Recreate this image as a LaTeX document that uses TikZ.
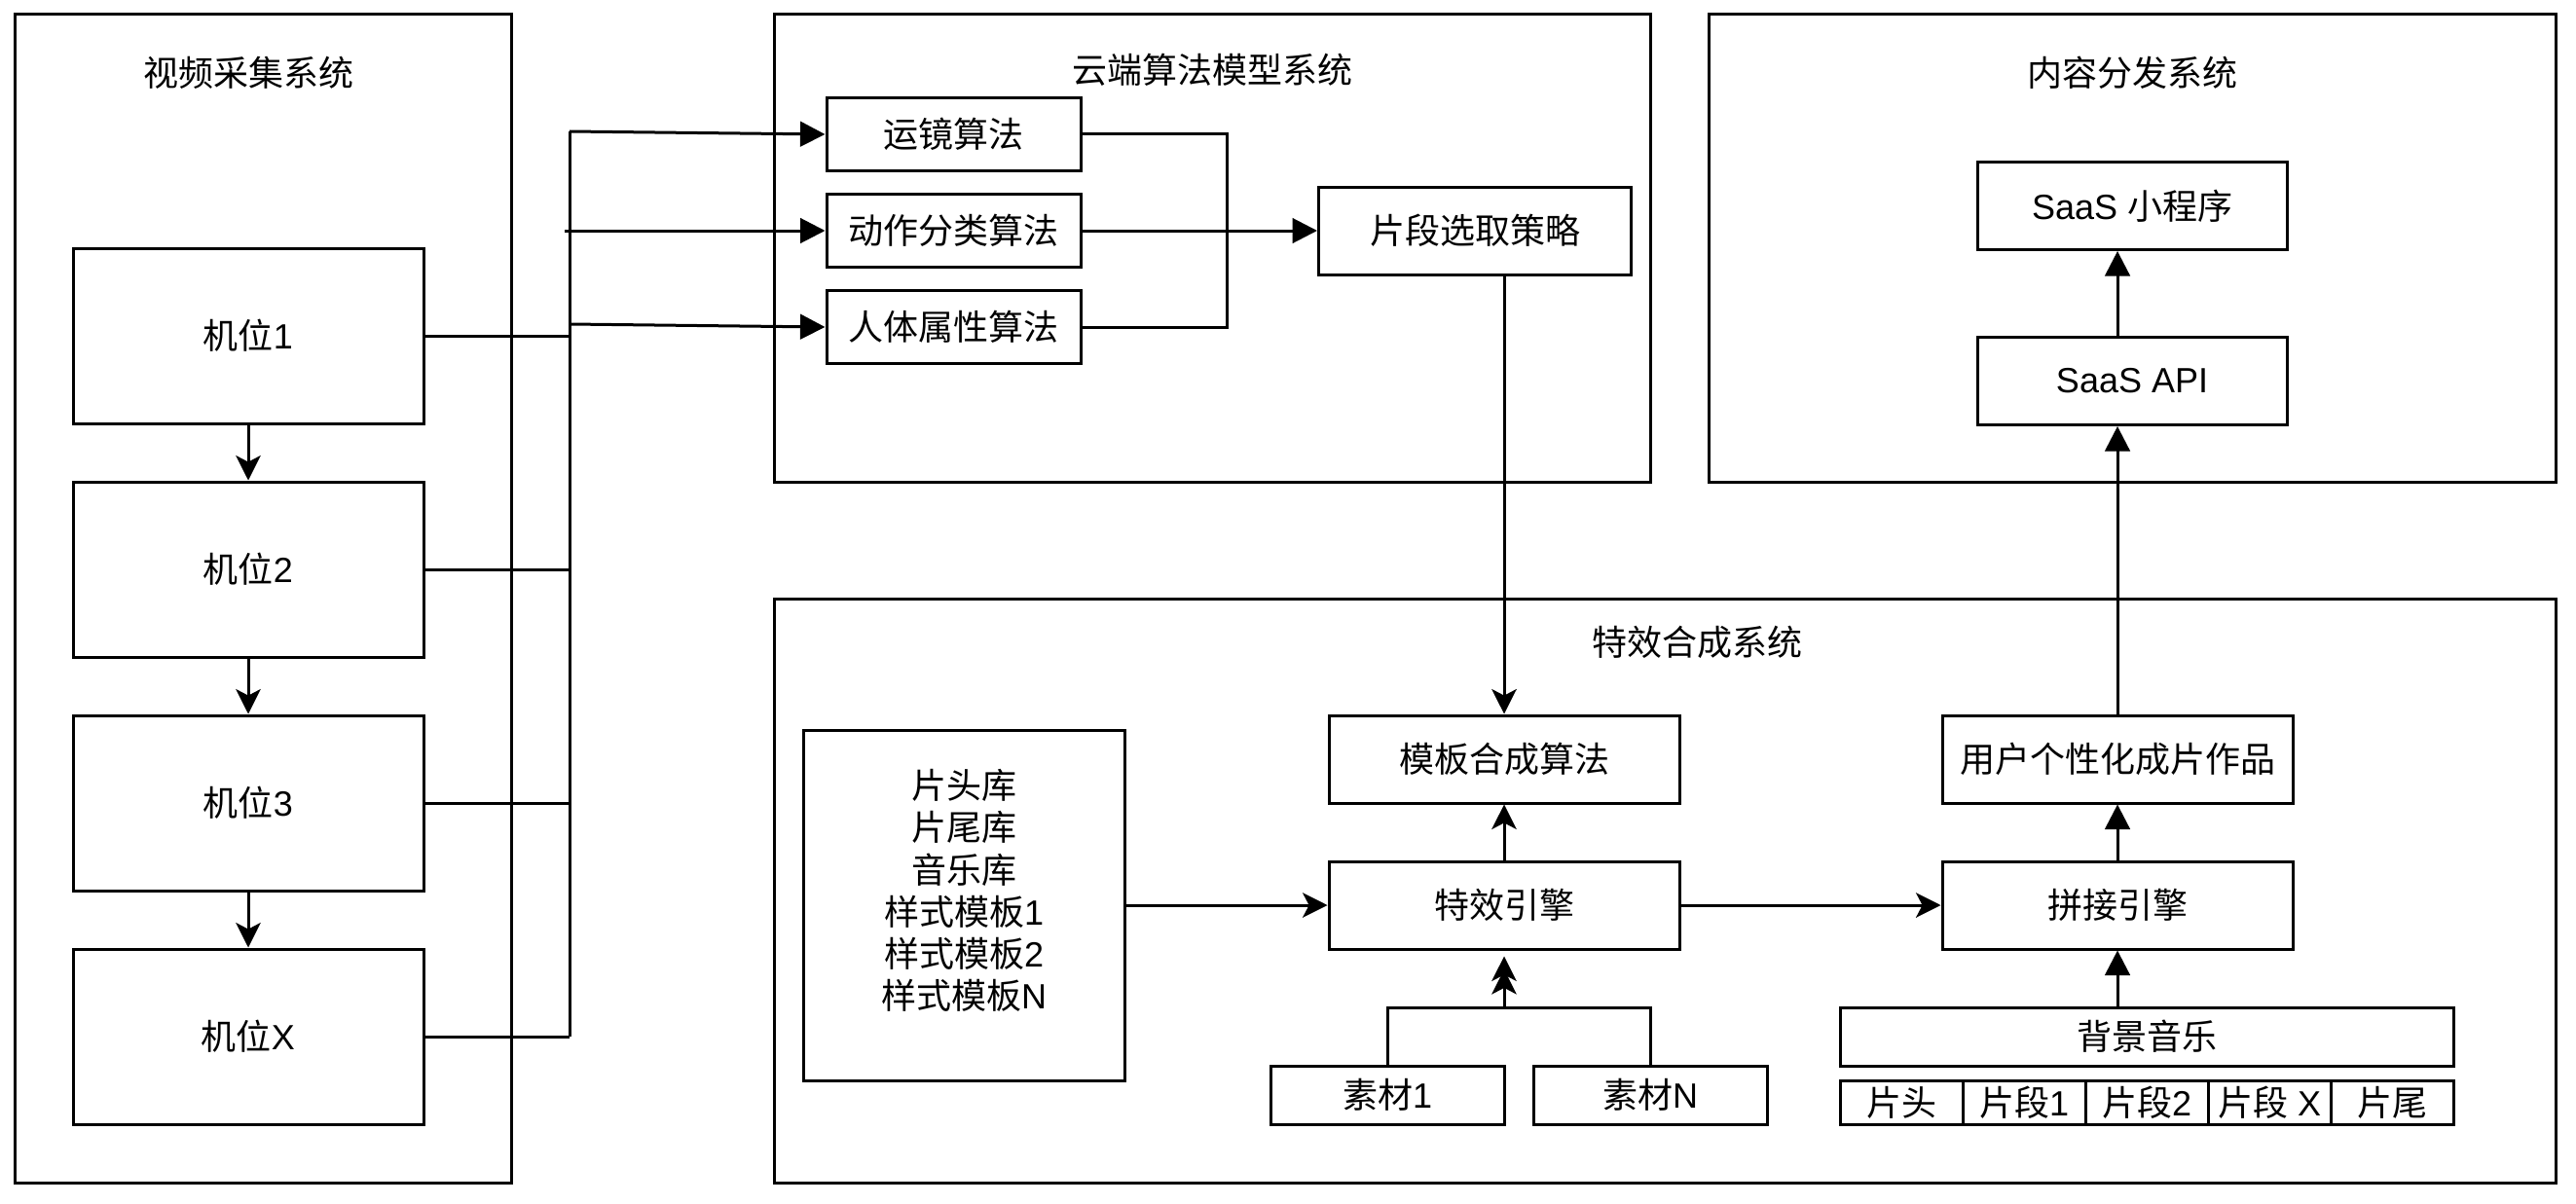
\documentclass[tikz,border=0pt]{standalone}
\usepackage{fontspec}
\setmainfont{Liberation Sans}
\newfontfamily\cjk{Noto Sans CJK SC}
\newcommand\C[1]{{\cjk #1}}
\usetikzlibrary{arrows.meta}
\tikzset{
  sys/.style={draw, line width=1pt, inner sep=0pt},
  ttl/.style={inner sep=0pt, font=\fontsize{12}{14.4}\selectfont},
  bx/.style={draw, line width=1pt, inner sep=0pt, align=center, font=\fontsize{12}{14.4}\selectfont},
  ln/.style={line width=1pt},
  blk/.style={line width=1pt, -{Triangle[length=8.5pt,width=8.5pt]}},
  cls/.style={line width=1pt, -{Stealth[length=8.5pt,width=8.5pt,inset=2.2pt]}},
}
\begin{document}
\begin{tikzpicture}[x=1pt,y=-1pt]
\useasboundingbox[fill=white] (0,0) rectangle (882,412);
% system frames
\node[sys, minimum width=170pt, minimum height=400pt] (sysA) at (90,205) {};
\node[sys, minimum width=300pt, minimum height=160pt] (sysB) at (415,85) {};
\node[sys, minimum width=290pt, minimum height=160pt] (sysC) at (730,85) {};
\node[sys, minimum width=610pt, minimum height=200pt] (sysD) at (570,305) {};
\node[ttl] (tA) at (85,25) {\C{视频采集系统}};
\node[ttl] (tB) at (415,24) {\C{云端算法模型系统}};
\node[ttl] (tC) at (730,25) {\C{内容分发系统}};
\node[ttl] (tD) at (581,220) {\C{特效合成系统}};
% cameras
\node[bx, minimum width=120pt, minimum height=60pt] (c1) at (85,115) {\C{机位}1};
\node[bx, minimum width=120pt, minimum height=60pt] (c2) at (85,195) {\C{机位}2};
\node[bx, minimum width=120pt, minimum height=60pt] (c3) at (85,275) {\C{机位}3};
\node[bx, minimum width=120pt, minimum height=60pt] (cX) at (85,355) {\C{机位}X};
% algorithms
\node[bx, minimum width=87pt, minimum height=25pt] (a1) at (326.5,46) {\C{运镜算法}};
\node[bx, minimum width=87pt, minimum height=25pt] (a2) at (326.5,79) {\C{动作分类算法}};
\node[bx, minimum width=87pt, minimum height=25pt] (a3) at (326.5,112) {\C{人体属性算法}};
\node[bx, minimum width=107pt, minimum height=30pt] (sel) at (505,79) {\C{片段选取策略}};
% distribution
\node[bx, minimum width=106pt, minimum height=30pt] (mini) at (730,70.5) {SaaS \C{小程序}};
\node[bx, minimum width=106pt, minimum height=30pt] (api) at (730,130.5) {SaaS API};
% effects
\node[bx, minimum width=110pt, minimum height=120pt] (lib) at (330,310) {};
\node[ttl, align=center] (libtxt) at (330,305) {\C{片头库}\\\C{片尾库}\\\C{音乐库}\\\C{样式模板}1\\\C{样式模板}2\\\C{样式模板}N};
\node[bx, minimum width=120pt, minimum height=30pt] (tpl) at (515,260) {\C{模板合成算法}};
\node[bx, minimum width=120pt, minimum height=30pt] (fx) at (515,310) {\C{特效引擎}};
\node[bx, minimum width=80pt, minimum height=20pt] (m1) at (475,375) {\C{素材}1};
\node[bx, minimum width=80pt, minimum height=20pt] (mN) at (565,375) {\C{素材}N};
\node[bx, minimum width=120pt, minimum height=30pt] (usr) at (725,260) {\C{用户个性化成片作品}};
\node[bx, minimum width=120pt, minimum height=30pt] (stc) at (725,310) {\C{拼接引擎}};
\node[bx, minimum width=210pt, minimum height=20pt] (bgm) at (735,355) {\C{背景音乐}};
\node[bx, minimum width=42pt, minimum height=15pt] (s1) at (651,377.5) {\C{片头}};
\node[bx, minimum width=42pt, minimum height=15pt] (s2) at (693,377.5) {\C{片段}1};
\node[bx, minimum width=42pt, minimum height=15pt] (s3) at (735,377.5) {\C{片段}2};
\node[bx, minimum width=42pt, minimum height=15pt] (s4) at (777,377.5) {\C{片段} X};
\node[bx, minimum width=42pt, minimum height=15pt] (s5) at (819,377.5) {\C{片尾}};
% camera chain
\draw[cls] (c1) -- (c2);
\draw[cls] (c2) -- (c3);
\draw[cls] (c3) -- (cX);
% bus
\coordinate (bus1) at (195,45);
\coordinate (bus2) at (193.3,79);
\coordinate (bus3) at (195,111);
\coordinate (busX) at (195,355);
\draw[ln] (bus1) -- (busX);
\draw[ln] (c1.east) -- (c1.east -| busX);
\draw[ln] (c2.east) -- (c2.east -| busX);
\draw[ln] (c3.east) -- (c3.east -| busX);
\draw[ln] (cX.east) -- (busX);
\draw[blk] (bus1) -- (a1.west);
\draw[blk] (bus2) -- (a2.west);
\draw[blk] (bus3) -- (a3.west);
% join
\coordinate (jn) at (420,79);
\draw[ln] (a1.east) -| (jn) |- (a3.east);
\draw[blk] (a2.east) -- (sel.west);
\draw[cls] (tpl.north |- sel.south) -- (tpl.north);
% effects
\draw[cls] (lib.east |- fx.west) -- (fx.west);
\draw[cls] (fx) -- (tpl);
\coordinate (mj) at (515,345);
\draw[cls, shorten >=2pt] (m1.north) |- (mj) -- (fx.south);
\draw[cls, shorten >=6.5pt] (mN.north) |- (mj) -- (fx.south);
\draw[cls] (fx) -- (stc);
\draw[blk] (stc.south |- bgm.north) -- (stc.south);
\draw[blk] (stc) -- (usr);
\draw[blk] (usr.north) -- (usr.north |- api.south);
\draw[blk] (usr.north |- api.north) -- (usr.north |- mini.south);
\end{tikzpicture}
\end{document}
